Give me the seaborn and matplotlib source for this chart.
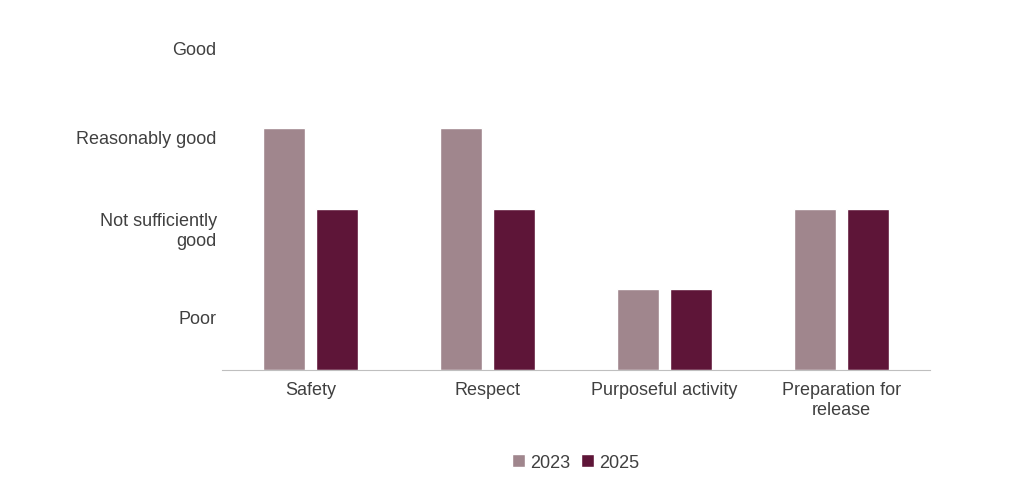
import pandas as pd
import matplotlib.pyplot as plt
import seaborn as sns

categories = ["Safety", "Respect", "Purposeful activity", "Preparation for\nrelease"]
years = ["2023", "2025"]
scores_2023 = [3, 3, 1, 2]
scores_2025 = [2, 2, 1, 2]
level_labels = ["Poor", "Not sufficiently\ngood", "Reasonably good", "Good"]
level_ticks = [0.66, 1.77, 2.89, 4.0]

df = pd.DataFrame({
    "category": categories * 2,
    "year": [years[0]] * 4 + [years[1]] * 4,
    "score": scores_2023 + scores_2025,
})

sns.set_style("white")
plt.rcParams["font.family"] = ["Liberation Sans", "DejaVu Sans"]

fig = plt.figure(figsize=(10.24, 4.81), dpi=100)
ax = fig.add_axes([0.217, 0.229, 0.691, 0.704])
sns.barplot(data=df, x="category", y="score", hue="year", ax=ax,
            palette=["#A0868D", "#5E1538"], width=0.6, gap=0.2, saturation=1)

ax.set_ylim(0, 4.2)
ax.set_yticks(level_ticks)
ax.set_yticklabels(level_labels, fontsize=13, color="#404040")
ax.tick_params(axis="y", length=0, pad=4)
ax.tick_params(axis="x", length=0, labelsize=13, labelcolor="#404040", pad=8)
for lab in ax.get_yticklabels():
    lab.set_horizontalalignment("right")
ax.set_xlabel("")
ax.set_ylabel("")
for s in ["top", "right", "left"]:
    ax.spines[s].set_visible(False)
ax.spines["bottom"].set_color("#BFBFBF")

ax.legend(loc="upper center", bbox_to_anchor=(0.5, -0.2), ncol=2, frameon=False,
          fontsize=13, handlelength=0.7, handleheight=0.7, handletextpad=0.3,
          columnspacing=0.6, labelcolor="#404040")

fig.savefig("out.png", dpi=100)
